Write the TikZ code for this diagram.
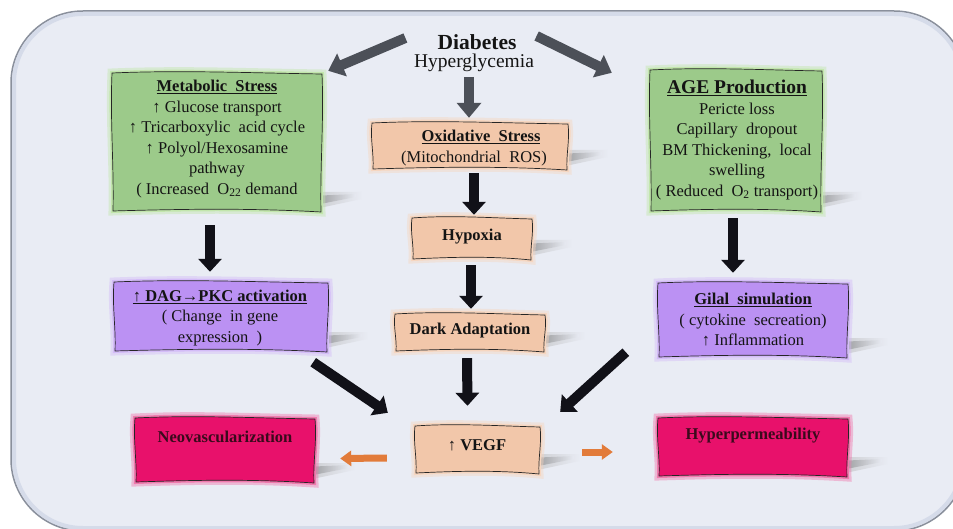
\documentclass[tikz,border=0pt]{standalone}
\usepackage{fontspec}
\setmainfont{Liberation Serif}
\usetikzlibrary{arrows.meta,calc}
\definecolor{bgc}{HTML}{E9ECF4}
\definecolor{frm}{HTML}{8A909C}
\definecolor{frmin}{HTML}{C9D0E3}
\definecolor{gfill}{HTML}{9CCA8A}
\definecolor{gglow}{HTML}{C2E6AC}
\definecolor{pfill}{HTML}{F2C7AA}
\definecolor{pglow}{HTML}{F6D6C0}
\definecolor{vfill}{HTML}{BB91F3}
\definecolor{vglow}{HTML}{D4BCF8}
\definecolor{mfill}{HTML}{E8116B}
\definecolor{mglow}{HTML}{F07AAE}
\definecolor{garr}{HTML}{4C5058}
\definecolor{barr}{HTML}{111118}
\definecolor{oarr}{HTML}{E27B3A}
\definecolor{txt}{HTML}{141414}
\definecolor{mtxt}{HTML}{3A0A1C}
\tikzset{
  boxtext/.style={align=center, font=\fontsize{16.5}{20.5}\selectfont, text=txt, inner sep=0pt},
  garrow/.style={draw=garr, line width=10pt, -{Triangle[width=24pt,length=15pt]}},
  barrow/.style={draw=barr, line width=10pt, -{Triangle[width=23pt,length=13pt]}},
  oarrow/.style={draw=oarr, line width=7pt, -{Triangle[width=15pt,length=11pt]}},
}
\newcommand\wbox[7]{%
  \pgfmathsetmacro\wbW{0.33*(#4-#2)}%
  \pgfmathsetmacro\wbH{0.33*(#5-#3)}%
  \shade[left color=black!30, right color=bgc, opacity=.6] (#4-12,#5-20) -- (#4+40,#5-20) -- (#4+40,#5-13) -- (#4-12,#5-2) -- cycle;
  \shade[left color=black!55, right color=bgc, opacity=.7] (#4-12,#5-16) -- (#4+34,#5-18) -- (#4+34,#5-15) -- (#4-12,#5-6) -- cycle;
  \path[fill=#6, draw=black!85, line width=0.7pt,
        preaction={draw=#7, line width=9pt, opacity=.45},
        preaction={draw=#7, line width=4pt}]
    (#2,#3) .. controls +(\wbW,-3) and +(-\wbW,-1) .. (#4,#3+1)
    .. controls +(2,\wbH) and +(-1,-\wbH) .. (#4-1,#5)
    .. controls +(-\wbW,-4) and +(\wbW,-2) .. (#2+1,#5-1)
    .. controls +(1,-\wbH) and +(-2,\wbH) .. cycle;
  \node[minimum width={(#4-#2)*1pt}, minimum height={(#5-#3)*1pt}, inner sep=0pt] (#1) at ({(#2+#4)/2},{(#3+#5)/2}) {};
}
\begin{document}
\begin{tikzpicture}[x=1pt,y=-1pt]
\useasboundingbox (0,0) rectangle (953,529);
\fill[white] (0,0) rectangle (953,529);
\begin{scope}
\clip (0,0) rectangle (953,529);
\path[fill=bgc, draw=frm, line width=1.5pt, rounded corners=72pt] (11,11) rectangle (966,531);
\draw[frmin, line width=4pt, opacity=.6, rounded corners=69pt] (14,14) rectangle (963,528);
\end{scope}

% boxes
\wbox{ms}{112}{73}{322}{212}{gfill}{gglow}
\wbox{age}{650}{70}{822}{212}{gfill}{gglow}
\wbox{ox}{372}{123}{568}{170}{pfill}{pglow}
\wbox{hy}{412}{218}{532}{260}{pfill}{pglow}
\wbox{da}{395}{314}{545}{352}{pfill}{pglow}
\wbox{ve}{415}{426}{540}{474}{pfill}{pglow}
\wbox{dag}{114}{282}{328}{352}{vfill}{vglow}
\wbox{gl}{658}{283}{848}{358}{vfill}{vglow}
\wbox{neo}{135}{418}{315}{483}{mfill}{mglow}
\wbox{hp}{658}{418}{848}{477}{mfill}{mglow}

% texts
\node[font=\fontsize{21.5}{24}\selectfont\bfseries, text=txt, inner sep=0pt] (dia) at (477,42) {Diabetes};
\node[font=\fontsize{19.5}{22}\selectfont, text=txt, inner sep=0pt] (hyp) at (474,63) {Hyperglycemia};
\node[boxtext] (mst) at (217,139) {\underline{\textbf{Metabolic\ \ Stress}}\\↑ Glucose transport\\↑ Tricarboxylic\ \ acid cycle\\↑ Polyol/Hexosamine\\pathway\\( Increased\ \ O\textsubscript{22} demand};
\node[boxtext] (aget) at (737,140) {\underline{\textbf{\fontsize{19.5}{20.5}\selectfont AGE Production}}\\Pericte loss\\Capillary\ \ dropout\\BM Thickening,\ \ local\\swelling\\( Reduced\ \ O\textsubscript{2} transport)};
\node[boxtext] (oxt) at (474,148) {\hspace*{14pt}\underline{\textbf{Oxidative\ \ Stress}}\\(Mitochondrial\ \ ROS)};
\node[boxtext] (hyt) at (472,237) {\textbf{Hypoxia}};
\node[boxtext] (dat) at (470,331) {\textbf{Dark Adaptation}};
\node[boxtext] (vet) at (477,445) {\textbf{↑ VEGF}};
\node[boxtext] (dagt) at (220,318) {\underline{\textbf{↑ DAG→PKC activation}}\\( Change\ \ in gene\\expression\ \ )};
\node[boxtext] (glt) at (753,320) {\underline{\textbf{Gilal\ \ simulation}}\\( cytokine\ \ secreation)\\↑ Inflammation};
\node[boxtext, text=mtxt] (neot) at (225,437) {\textbf{Neovascularization}};
\node[boxtext, text=mtxt] (hpt) at (753,436) {\textbf{Hyperpermeability}};

% gray arrows
\draw[garrow] ($(dia.west)+(-32,-4)$) -- ($(ms.north east)+(6,-2)$);
\draw[garrow] ($(dia.east)+(20,-6)$) -- ($(age.north west)+(-38,3)$);
\draw[garrow] ($(ox.north)+(-1,-46)$) -- ($(ox.north)+(-1,-5)$);

% black arrows
\draw[barrow] ($(ox.south)+(4,3)$) -- ($(hy.north)+(2,-3)$);
\draw[barrow] ($(hy.south)+(-1,5)$) -- ($(da.north)+(1,-5)$);
\draw[barrow] ($(da.south)+(-3,6)$) -- ($(ve.north)+(-10,-20)$);
\draw[barrow] ($(ms.south)+(-7,13)$) -- ($(dag.north)+(-11,-10)$);
\draw[barrow] ($(age.south)+(-3,6)$) -- ($(gl.north)+(-20,-10)$);
\draw[barrow] ($(dag.south east)+(-15,10)$) -- ($(ve.north west)+(-27,-13)$);
\draw[barrow] ($(gl.south west)+(-32,-6)$) -- ($(ve.north east)+(20,-14)$);

% orange arrows
\draw[oarrow] ($(ve.west)+(-28,8)$) -- ($(neo.east)+(25,8)$);
\draw[oarrow] ($(ve.east)+(42,2)$) -- ($(hp.west)+(-45,4.5)$);
\end{tikzpicture}
\end{document}
